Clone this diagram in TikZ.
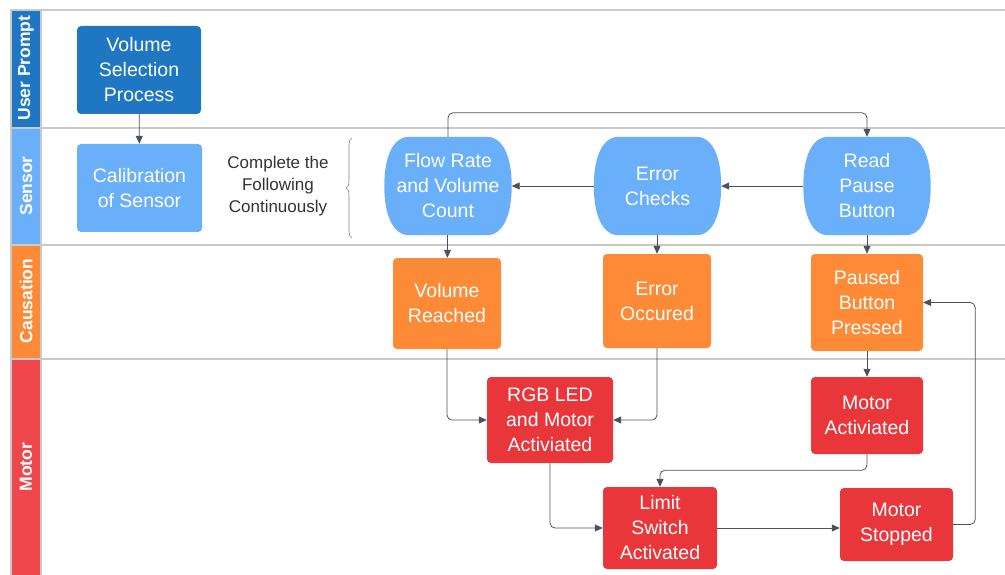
\documentclass[tikz,border=0pt]{standalone}
\usepackage{fontspec}
\setmainfont{Liberation Sans}
\usetikzlibrary{arrows.meta,decorations.pathreplacing,calc,backgrounds}
\definecolor{dblue}{HTML}{1F77C3}
\definecolor{lblue}{HTML}{6AAFFA}
\definecolor{orng}{HTML}{FD8A36}
\definecolor{redb}{HTML}{E8363A}
\definecolor{redl}{HTML}{EF484C}
\definecolor{lanegray}{HTML}{C9C9C9}
\definecolor{linec}{HTML}{4C515C}
\definecolor{txtc}{HTML}{333333}
\begin{document}
\begin{tikzpicture}[x=1pt,y=-1pt,
  box/.style={rounded corners=4pt, text=white, align=center, inner sep=0pt,
    font=\fontsize{19.5}{25}\selectfont},
  sens/.style={box, minimum width=127pt, minimum height=98pt},
  lanelab/.style={rotate=90, text=white, font=\fontsize{17.5}{18}\selectfont\bfseries},
  conn/.style={draw=linec, line width=0.8pt, rounded corners=5pt, -{Triangle[length=8pt,width=7pt]}},
  lanel/.style={draw=lanegray, line width=1.3pt}
]
\useasboundingbox (0,0) rectangle (1005,575);
% lane strips
\fill[dblue] (11,10) rectangle (41,128);
\fill[lblue] (11,128) rectangle (41,245);
\fill[orng] (11,245) rectangle (41,359);
\fill[redl] (11,359) rectangle (41,575);
\draw[lanel] (1005,10) -- (11,10) -- (11,575);
\draw[lanel] (41,10) -- (41,575);
\draw[lanel] (11,128) -- (1005,128);
\draw[lanel] (11,245) -- (1005,245);
\draw[lanel] (11,359) -- (1005,359);
\node[lanelab] (lupr) at (26,68) {User Prompt};
\node[lanelab] (lsen) at (26,186) {Sensor};
\node[lanelab] (lcau) at (26,301) {Causation};
\node[lanelab] (lmot) at (26,467) {Motor};
% nodes
\node[box, fill=dblue, minimum width=124pt, minimum height=88pt] (vsp) at (139,70) {Volume\\Selection\\Process};
\node[box, fill=lblue, minimum width=125pt, minimum height=88pt] (cal) at (139.5,188) {Calibration\\of Sensor};
\node[align=center, text=txtc, font=\fontsize{17}{22}\selectfont, inner sep=0pt] (cft) at (278,186) {Complete the\\Following\\Continuously};
\coordinate (brb) at (352,238);
\coordinate (brt) at (352,138);
\draw[draw=linec!70, line width=0.6pt, decorate, decoration={brace, amplitude=6pt}] (brb) -- (brt);
\node[sens] (flow) at (448,186) {Flow Rate\\and Volume\\Count};
\node[sens] (err) at (657.5,186) {Error\\Checks};
\node[sens] (rpb) at (867,186) {Read\\Pause\\Button};
\begin{pgfonlayer}{background}
\foreach \n in {flow,err,rpb}{
  \fill[lblue] ($(\n.north west)+(25,0)$) -- ($(\n.north east)+(-25,0)$)
    .. controls ($(\n.north east)+(-9,0)$) and ($(\n.east)+(0,-30)$) .. (\n.east)
    .. controls ($(\n.east)+(0,30)$) and ($(\n.south east)+(-9,0)$) .. ($(\n.south east)+(-25,0)$)
    -- ($(\n.south west)+(25,0)$)
    .. controls ($(\n.south west)+(9,0)$) and ($(\n.west)+(0,30)$) .. (\n.west)
    .. controls ($(\n.west)+(0,-30)$) and ($(\n.north west)+(9,0)$) .. ($(\n.north west)+(25,0)$)
    -- cycle;
}
\end{pgfonlayer}
\node[box, fill=orng, minimum width=108pt, minimum height=91pt] (vr) at (447,303.5) {Volume\\Reached};
\node[box, fill=orng, minimum width=108pt, minimum height=94pt] (eo) at (657,301) {Error\\Occured};
\node[box, fill=orng, minimum width=112pt, minimum height=97pt] (pbp) at (867,302.5) {Paused\\Button\\Pressed};
\node[box, fill=redb, minimum width=126pt, minimum height=86pt] (rgb) at (550,420) {RGB LED\\and Motor\\Activiated};
\node[box, fill=redb, minimum width=112pt, minimum height=77pt] (ma) at (867,415.5) {Motor\\Activiated};
\node[box, fill=redb, minimum width=114pt, minimum height=82pt] (ls) at (660,528) {Limit\\Switch\\Activated};
\node[box, fill=redb, minimum width=113pt, minimum height=73pt] (ms) at (896.5,524.5) {Motor\\Stopped};
% connectors
\draw[conn] (vsp) -- (cal);
\draw[conn] (rpb) -- (err);
\draw[conn] (err) -- (flow);
\draw[conn] (flow.north) -- ++(0,-24) -| (rpb.north);
\draw[conn] (flow) -- (vr);
\draw[conn] (eo.north |- err.south) -- (eo.north);
\draw[conn] (rpb) -- (pbp);
\draw[conn] (vr.south) |- (rgb.west);
\draw[conn] (eo.south) |- (rgb.east);
\draw[conn] (pbp) -- (ma);
\draw[conn] (ma.south) -- ++(0,16) -| (ls.north);
\draw[conn] (rgb.south) |- (ls.west);
\draw[conn] (ls.east) -- (ls.east -| ms.west);
\draw[conn] (ms.east) -- ++(22,0) |- (pbp.east);
\end{tikzpicture}
\end{document}
